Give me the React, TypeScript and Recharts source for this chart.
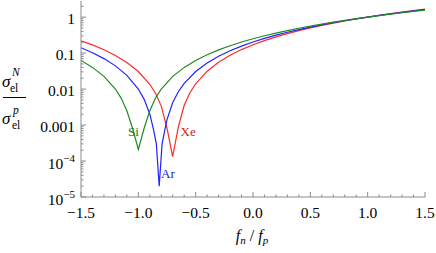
import React from "react";
import { LineChart, Line, XAxis, YAxis } from "recharts";

// values (sigma_N / sigma_p vs f_n/f_p)
const siX = [-1.5, -1.4, -1.3, -1.2, -1.15, -1.1, -1.05, -1.0, -0.95, -0.9, -0.85, -0.8, -0.7, -0.6, -0.5, -0.4, -0.3, -0.2, -0.1, 0, 0.1, 0.2, 0.3, 0.4, 0.5, 0.6, 0.7, 0.8, 0.9, 1.0, 1.1, 1.2, 1.3, 1.4, 1.5];
const siY = [0.0625, 0.04, 0.0225, 0.01, 0.0056, 0.0025, 0.0008, 0.00021, 0.0008, 0.0025, 0.0056, 0.01, 0.0225, 0.04, 0.0625, 0.09, 0.1225, 0.16, 0.2025, 0.25, 0.3025, 0.36, 0.4225, 0.49, 0.5625, 0.64, 0.7225, 0.81, 0.9025, 1, 1.1025, 1.21, 1.3225, 1.44, 1.5625];

const arX = [-1.5, -1.4, -1.3, -1.2, -1.1, -1.0, -0.95, -0.9, -0.868, -0.843, -0.818, -0.793, -0.768, -0.75, -0.7, -0.65, -0.6, -0.5, -0.4, -0.3, -0.2, -0.1, 0, 0.1, 0.2, 0.3, 0.4, 0.5, 0.6, 0.7, 0.8, 0.9, 1.0, 1.1, 1.2, 1.3, 1.4, 1.5];
const arY = [0.141, 0.102, 0.0702, 0.0441, 0.024, 0.01, 0.00526, 0.00203, 0.00076, 0.0003, 0.00002, 0.0003, 0.00076, 0.00141, 0.00423, 0.00856, 0.0144, 0.0306, 0.0529, 0.0812, 0.116, 0.156, 0.2025, 0.255, 0.314, 0.378, 0.449, 0.526, 0.608, 0.697, 0.792, 0.893, 1, 1.113, 1.232, 1.357, 1.488, 1.626];

const xeX = [-1.5, -1.4, -1.3, -1.2, -1.1, -1.0, -0.9, -0.85, -0.8, -0.75, -0.701, -0.65, -0.6, -0.55, -0.5, -0.4, -0.3, -0.2, -0.1, 0, 0.1, 0.2, 0.3, 0.4, 0.5, 0.6, 0.7, 0.8, 0.9, 1.0, 1.1, 1.2, 1.3, 1.4, 1.5];
const xeY = [0.22, 0.169, 0.124, 0.086, 0.0549, 0.0308, 0.0136, 0.00764, 0.00336, 0.00082, 0.000132, 0.00091, 0.00354, 0.0079, 0.014, 0.0314, 0.0556, 0.0868, 0.125, 0.17, 0.222, 0.281, 0.346, 0.419, 0.499, 0.585, 0.679, 0.779, 0.886, 1, 1.121, 1.249, 1.384, 1.526, 1.674];

const xMajor = [-1.5, -1.0, -0.5, 0, 0.5, 1.0, 1.5];
const xLabels = ["\u22121.5", "\u22121.0", "\u22120.5", "0.0", "0.5", "1.0", "1.5"];
const yMajor = [1e-5, 1e-4, 0.001, 0.01, 0.1, 1];
const yLabels = [
  { base: "10", exp: "\u22125" },
  { base: "10", exp: "\u22124" },
  { base: "0.001", exp: "" },
  { base: "0.01", exp: "" },
  { base: "0.1", exp: "" },
  { base: "1", exp: "" },
];

const FRAME = "#8a8a8a";
const FONT = '"Liberation Serif", "Times New Roman", "DejaVu Serif", serif';
const TXT: React.CSSProperties = { fontFamily: FONT };
const COLORS = { si: "#1f8c1f", ar: "#2222ff", xe: "#ff2a2a" };

const toData = (xs: number[], ys: number[]) => xs.map((x, i) => ({ x, y: ys[i] }));
const siData = toData(siX, siY);
const arData = toData(arX, arY);
const xeData = toData(xeX, xeY);

// minor ticks every 0.1 on x, 2..9 per decade on y
const xTicks: number[] = [];
for (let i = -15; i <= 15; i++) xTicks.push(i / 10);
const yTicks: number[] = [];
yMajor.forEach((d) => {
  yTicks.push(d);
  if (d < 1) for (let k = 2; k <= 9; k++) yTicks.push(+(d * k).toPrecision(3));
});
yTicks.push(2);

const xMajorIdx = (v: number) => xMajor.findIndex((m) => Math.abs(m - v) < 1e-6);
const yMajorIdx = (v: number) => yMajor.findIndex((m) => Math.abs(m - v) / m < 1e-6);

const BottomTick = (props: any) => {
  const { x, y, payload } = props;
  const idx = xMajorIdx(payload.value);
  return (
    <g>
      <line x1={x} x2={x} y1={y} y2={y - (idx >= 0 ? 5 : 2.5)} stroke={FRAME} />
      {idx >= 0 && (
        <text x={x} y={y + 21} textAnchor="middle" style={TXT} fontSize={15.5} fill="#000">
          {xLabels[idx]}
        </text>
      )}
    </g>
  );
};

const TopTick = (props: any) => {
  const { x, y, payload } = props;
  const idx = xMajorIdx(payload.value);
  return <line x1={x} x2={x} y1={y} y2={y + (idx >= 0 ? 5 : 2.5)} stroke={FRAME} />;
};

const LeftTick = (props: any) => {
  const { x, y, payload } = props;
  const idx = yMajorIdx(payload.value);
  const lab = idx >= 0 ? yLabels[idx] : null;
  return (
    <g>
      <line x1={x} x2={x + (idx >= 0 ? 5 : 2.5)} y1={y} y2={y} stroke={FRAME} />
      {lab && (
        <text x={x - 6} y={y + (lab.exp ? 7.5 : 6.5)} textAnchor="end" style={TXT} fontSize={15.5} fill="#000">
          <tspan>{lab.base}</tspan>
          {lab.exp && (
            <tspan dy={-6.5} fontSize={11}>
              {lab.exp}
            </tspan>
          )}
        </text>
      )}
    </g>
  );
};

const RightTick = (props: any) => {
  const { x, y, payload } = props;
  const idx = yMajorIdx(payload.value);
  return <line x1={x} x2={x - (idx >= 0 ? 5 : 2.5)} y1={y} y2={y} stroke={FRAME} />;
};

export default function App() {
  return (
    <div style={{ position: "absolute", left: 0, top: 0, width: 436, height: 253, background: "#fff" }}>
      <LineChart width={436} height={253} margin={{ top: 1, right: 11, bottom: 0, left: 0 }}>
        <XAxis
          xAxisId="b"
          type="number"
          dataKey="x"
          domain={[-1.5, 1.5]}
          ticks={xTicks}
          interval={0}
          allowDataOverflow
          height={56}
          tickSize={0}
          tickMargin={0}
          tickLine={false}
          axisLine={{ stroke: FRAME }}
          tick={BottomTick}
        />
        <XAxis
          xAxisId="t"
          orientation="top"
          type="number"
          dataKey="x"
          domain={[-1.5, 1.5]}
          ticks={xTicks}
          interval={0}
          allowDataOverflow
          height={0}
          tickSize={0}
          tickMargin={0}
          tickLine={false}
          axisLine={{ stroke: FRAME }}
          tick={TopTick}
        />
        <YAxis
          yAxisId="l"
          type="number"
          scale="log"
          domain={[1e-5, 2.8]}
          ticks={yTicks}
          interval={0}
          allowDataOverflow
          width={81}
          tickSize={0}
          tickMargin={0}
          tickLine={false}
          axisLine={{ stroke: FRAME }}
          tick={LeftTick}
        />
        <YAxis
          yAxisId="r"
          orientation="right"
          type="number"
          scale="log"
          domain={[1e-5, 2.8]}
          ticks={yTicks}
          interval={0}
          allowDataOverflow
          width={0}
          tickSize={0}
          tickMargin={0}
          tickLine={false}
          axisLine={{ stroke: FRAME }}
          tick={RightTick}
        />
        <Line xAxisId="b" yAxisId="l" data={xeData} dataKey="y" type="linear" stroke={COLORS.xe} strokeWidth={1.2} dot={false} isAnimationActive={false} />
        <Line xAxisId="b" yAxisId="l" data={arData} dataKey="y" type="linear" stroke={COLORS.ar} strokeWidth={1.2} dot={false} isAnimationActive={false} />
        <Line xAxisId="b" yAxisId="l" data={siData} dataKey="y" type="linear" stroke={COLORS.si} strokeWidth={1.2} dot={false} isAnimationActive={false} />
      </LineChart>
      <svg width={436} height={253} style={{ position: "absolute", left: 0, top: 0, pointerEvents: "none", fontFamily: FONT }}>
        {/* y title: sigma_el^N / sigma_el^p */}
        <text x={2} y={87} fontSize={17} fontStyle="italic" fill="#000">σ</text>
        <text x={10} y={92} fontSize={11.5} fill="#000">el</text>
        <text x={12} y={76} fontSize={11.5} fontStyle="italic" fill="#000">N</text>
        <line x1={3} x2={26} y1={97.5} y2={97.5} stroke="#000" strokeWidth={1} />
        <text x={2} y={124} fontSize={17} fontStyle="italic" fill="#000">σ</text>
        <text x={12} y={129} fontSize={11.5} fill="#000">el</text>
        <text x={13} y={114} fontSize={11.5} fontStyle="italic" fill="#000">p</text>
        {/* x title */}
        <text x={252} y={241} textAnchor="middle" fontSize={16} fill="#000">
          <tspan fontStyle="italic">f</tspan>
          <tspan dy={3} fontSize={11} fontStyle="italic">n</tspan>
          <tspan dy={-3}> / </tspan>
          <tspan fontStyle="italic">f</tspan>
          <tspan dy={3} fontSize={11} fontStyle="italic">p</tspan>
        </text>
        {/* curve labels */}
        <text x={128} y={136} fontSize={13} fill="#1a7a1a">Si</text>
        <text x={161} y={178} fontSize={13} fill="#1c1ccc">Ar</text>
        <text x={180.5} y={135.5} fontSize={13} fill="#cc2222">Xe</text>
      </svg>
    </div>
  );
}
